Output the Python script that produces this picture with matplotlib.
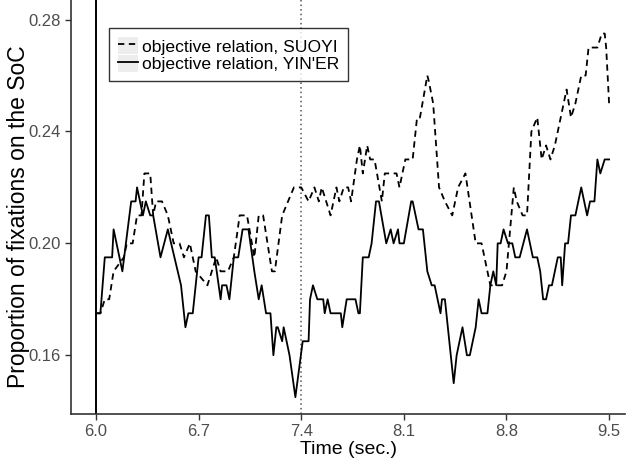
import matplotlib
matplotlib.use("Agg")
import matplotlib.pyplot as plt
from matplotlib.legend_handler import HandlerLine2D
from matplotlib.patches import Rectangle

plt.rcParams["font.family"] = ["Liberation Sans", "DejaVu Sans"]

# YIN'ER (solid)
yiner_t = [6.00, 6.03, 6.06, 6.11, 6.12, 6.18, 6.24, 6.27, 6.28, 6.32, 6.34, 6.37,
           6.39, 6.44, 6.49, 6.58, 6.61, 6.63, 6.66, 6.70, 6.72, 6.75, 6.77, 6.79,
           6.81, 6.85, 6.86, 6.89, 6.91, 6.94, 6.97, 7.00, 7.04, 7.08, 7.11, 7.13,
           7.16, 7.19, 7.21, 7.23, 7.24, 7.27, 7.28, 7.32, 7.36, 7.41, 7.45, 7.46,
           7.48, 7.51, 7.55, 7.56, 7.58, 7.60, 7.67, 7.68, 7.71, 7.77, 7.79, 7.80,
           7.82, 7.86, 7.88, 7.91, 7.93, 7.98, 8.01, 8.03, 8.06, 8.07, 8.10, 8.15,
           8.16, 8.20, 8.23, 8.26, 8.29, 8.31, 8.35, 8.36, 8.38, 8.43, 8.44, 8.46,
           8.50, 8.53, 8.55, 8.59, 8.61, 8.63, 8.67, 8.69, 8.71, 8.73, 8.74, 8.76,
           8.78, 8.81, 8.84, 8.86, 8.89, 8.94, 8.98, 9.01, 9.03, 9.05, 9.07, 9.09,
           9.11, 9.15, 9.17, 9.18, 9.20, 9.22, 9.24, 9.27, 9.31, 9.35, 9.37, 9.40,
           9.42, 9.44, 9.47, 9.50]
yiner_v = [0.175, 0.175, 0.195, 0.195, 0.205, 0.190, 0.215, 0.215, 0.220, 0.210, 0.215, 0.210,
           0.210, 0.195, 0.205, 0.185, 0.170, 0.175, 0.175, 0.195, 0.195, 0.210, 0.210, 0.195,
           0.195, 0.180, 0.185, 0.185, 0.180, 0.195, 0.195, 0.205, 0.205, 0.190, 0.180, 0.185,
           0.175, 0.175, 0.160, 0.170, 0.170, 0.165, 0.170, 0.160, 0.145, 0.165, 0.165, 0.180,
           0.185, 0.180, 0.180, 0.175, 0.180, 0.175, 0.175, 0.170, 0.180, 0.180, 0.175, 0.175,
           0.195, 0.195, 0.200, 0.215, 0.215, 0.200, 0.205, 0.200, 0.205, 0.200, 0.200, 0.215,
           0.215, 0.205, 0.205, 0.190, 0.185, 0.185, 0.175, 0.180, 0.180, 0.155, 0.150, 0.160,
           0.170, 0.160, 0.160, 0.170, 0.180, 0.175, 0.175, 0.185, 0.190, 0.185, 0.200, 0.200,
           0.205, 0.200, 0.200, 0.195, 0.195, 0.205, 0.195, 0.195, 0.190, 0.180, 0.180, 0.185,
           0.185, 0.195, 0.195, 0.185, 0.200, 0.200, 0.210, 0.210, 0.220, 0.210, 0.215, 0.215,
           0.230, 0.225, 0.230, 0.230]

# SUOYI (dashed)
suoyi_t = [6.00, 6.03, 6.06, 6.09, 6.12, 6.19, 6.21, 6.25, 6.28, 6.31, 6.33, 6.37,
           6.39, 6.41, 6.45, 6.49, 6.53, 6.57, 6.60, 6.64, 6.68, 6.76, 6.82, 6.85,
           6.90, 6.94, 6.98, 7.03, 7.08, 7.11, 7.14, 7.20, 7.22, 7.27, 7.35, 7.40,
           7.45, 7.49, 7.52, 7.54, 7.60, 7.64, 7.66, 7.69, 7.72, 7.74, 7.78, 7.80,
           7.82, 7.85, 7.87, 7.90, 7.95, 7.97, 8.05, 8.07, 8.11, 8.16, 8.19, 8.21,
           8.26, 8.27, 8.30, 8.34, 8.38, 8.43, 8.47, 8.52, 8.59, 8.63, 8.69, 8.77,
           8.80, 8.85, 8.87, 8.91, 8.94, 8.97, 9.01, 9.04, 9.07, 9.10, 9.13, 9.17,
           9.21, 9.24, 9.27, 9.31, 9.34, 9.36, 9.42, 9.45, 9.47, 9.48, 9.50]
suoyi_v = [0.175, 0.175, 0.180, 0.180, 0.190, 0.195, 0.200, 0.200, 0.210, 0.210, 0.225, 0.225,
           0.210, 0.215, 0.215, 0.210, 0.200, 0.200, 0.195, 0.200, 0.190, 0.185, 0.195, 0.190,
           0.190, 0.195, 0.210, 0.210, 0.195, 0.210, 0.210, 0.190, 0.190, 0.210, 0.220, 0.220,
           0.215, 0.220, 0.215, 0.220, 0.210, 0.220, 0.215, 0.220, 0.220, 0.215, 0.230, 0.235,
           0.225, 0.235, 0.230, 0.230, 0.215, 0.225, 0.225, 0.220, 0.230, 0.230, 0.245, 0.245,
           0.260, 0.258, 0.250, 0.220, 0.215, 0.210, 0.220, 0.225, 0.200, 0.200, 0.185, 0.185,
           0.190, 0.220, 0.215, 0.210, 0.210, 0.240, 0.245, 0.230, 0.235, 0.230, 0.235, 0.245,
           0.255, 0.245, 0.250, 0.260, 0.260, 0.270, 0.270, 0.275, 0.275, 0.270, 0.250]

x_ticks = [6.0, 6.7, 7.4, 8.1, 8.8, 9.5]
y_ticks = [0.16, 0.20, 0.24, 0.28]


class KeyHandler(HandlerLine2D):
    # legend key with a light grey background, like ggplot
    def create_artists(self, legend, orig_handle, xdescent, ydescent,
                       width, height, fontsize, trans):
        arts = super().create_artists(legend, orig_handle, xdescent, ydescent,
                                      width, height, fontsize, trans)
        bg = Rectangle((-xdescent, -ydescent), width, height,
                       facecolor="#ededed", edgecolor="none", transform=trans)
        return [bg] + list(arts)


fig = plt.figure(figsize=(6.29, 4.61), dpi=100)
ax = fig.add_axes([0.113, 0.102, 0.881, 0.898])

ax.axvline(6.0, color="black", lw=1.4)
ax.axvline(7.4, color="#555555", lw=1.1, ls=(0, (1, 2)))

ax.plot(suoyi_t, suoyi_v, color="black", lw=1.3, ls=(0, (3.5, 2.5)),
        label="objective relation, SUOYI")
ax.plot(yiner_t, yiner_v, color="black", lw=1.3,
        label="objective relation, YIN'ER")

ax.set_xlim(5.83, 9.61)
ax.set_ylim(0.139, 0.287)
ax.set_xticks(x_ticks)
ax.set_xticklabels([f"{t:.1f}" for t in x_ticks])
ax.set_yticks(y_ticks)
ax.set_yticklabels([f"{t:.2f}" for t in y_ticks])

for side in ["top", "right"]:
    ax.spines[side].set_visible(False)
for side in ["left", "bottom"]:
    ax.spines[side].set_color("#333333")
    ax.spines[side].set_linewidth(1.2)
ax.tick_params(colors="#333333", labelcolor="#4d4d4d", labelsize=12, length=4, width=1)

ax.set_xlabel("Time (sec.)", fontsize=14, labelpad=1.5)
ax.set_ylabel("Proportion of fixations on the SoC", fontsize=16.5, va="center")
ax.yaxis.set_label_coords(-0.095, 0.476)

leg = ax.legend(loc="upper left", bbox_to_anchor=(0.0686, 0.932), fontsize=12.6,
                frameon=True, fancybox=False, handlelength=1.15, handleheight=1.15,
                handletextpad=0.25, borderpad=0.5, labelspacing=0.0, borderaxespad=0,
                handler_map={l: KeyHandler() for l in ax.get_lines()[2:]})
leg.get_frame().set_edgecolor("black")
leg.get_frame().set_linewidth(1.0)

fig.savefig("out.png", dpi=100)
